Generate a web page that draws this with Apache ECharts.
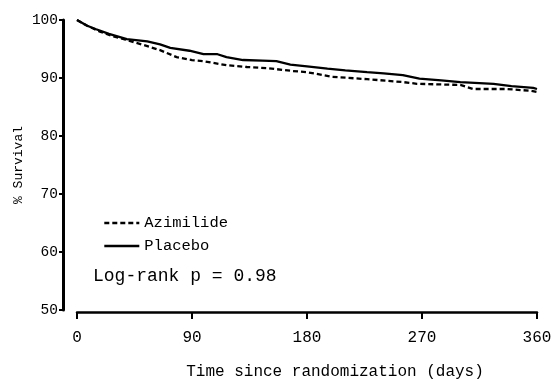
<!DOCTYPE html>
<html>
<head>
<meta charset="utf-8">
<script src="https://cdn.jsdelivr.net/npm/echarts@6/dist/echarts.min.js"></script>
<style>
html,body{margin:0;padding:0;background:#fff;}
#chart{width:555px;height:381px;}
</style>
</head>
<body>
<div id="chart"></div>
<script>
const xTicks = [0, 90, 180, 270, 360];
const yTicks = [50, 60, 70, 80, 90, 100];
const placeboDays = [0, 8, 15, 25, 39, 55, 65, 73, 88, 99, 110, 117, 130, 145, 156, 167, 180, 196, 210, 227, 240, 255, 268, 285, 300, 326, 340, 357, 360];
const placeboSurv = [100, 99.0, 98.4, 97.6, 96.7, 96.3, 95.8, 95.2, 94.7, 94.1, 94.1, 93.6, 93.1, 93.0, 92.9, 92.3, 92.0, 91.6, 91.3, 91.0, 90.8, 90.5, 89.9, 89.6, 89.3, 89.0, 88.6, 88.3, 88.1];
const azimDays = [0, 8, 18, 28, 38, 52, 65, 78, 90, 99, 117, 133, 149, 169, 180, 200, 227, 255, 266, 300, 310, 336, 355, 360];
const azimSurv = [100, 99.0, 98.0, 97.2, 96.6, 95.7, 94.8, 93.6, 93.1, 92.9, 92.2, 91.9, 91.7, 91.2, 91.0, 90.2, 89.8, 89.3, 89.0, 88.8, 88.1, 88.1, 87.8, 87.6];
const seriesNames = ['Azimilide', 'Placebo'];
const pText = 'Log-rank p = 0.98';

const FONT = '"Liberation Mono", "DejaVu Sans Mono", monospace';
const chart = echarts.init(document.getElementById('chart'));
chart.setOption({
  animation: false,
  backgroundColor: '#fff',
  grid: { left: 77, right: 18, top: 20, bottom: 71, outerBoundsMode: 'none', containLabel: false },
  title: {
    text: pText, left: 88, top: 262,
    textStyle: { fontFamily: FONT, fontSize: 18, fontWeight: 'normal', color: '#000' }
  },
  legend: {
    orient: 'vertical', left: 98, top: 210, itemWidth: 35, itemHeight: 14, itemGap: 7,
    textStyle: { fontFamily: FONT, fontSize: 15.5, color: '#000' },
    itemStyle: { color: 'rgba(0,0,0,0)', borderColor: 'rgba(0,0,0,0)', borderWidth: 0 },
    lineStyle: { width: 2.6 },
    data: seriesNames
  },
  xAxis: {
    type: 'value', min: 0, max: 360, interval: 90, offset: 2,
    name: 'Time since randomization (days)', nameLocation: 'middle', nameGap: 52,
    nameTextStyle: { fontFamily: FONT, fontSize: 16, color: '#000', padding: [0, 0, 0, 56] },
    axisLine: { onZero: false, lineStyle: { color: '#000', width: 2.5 } },
    axisTick: { show: true, inside: false, length: 7, lineStyle: { color: '#000', width: 2 } },
    axisLabel: { fontFamily: FONT, fontSize: 16, color: '#000', margin: 18, formatter: v => xTicks.includes(v) ? String(v) : '' },
    splitLine: { show: false }
  },
  yAxis: {
    type: 'value', min: 50, max: 100, interval: 10, offset: 14,
    name: '% Survival', nameLocation: 'middle', nameGap: 38, nameMoveOverlap: false,
    nameTextStyle: { fontFamily: FONT, fontSize: 13, color: '#000' },
    axisLine: { show: true, onZero: false, lineStyle: { color: '#000', width: 3 } },
    axisTick: { show: true, inside: false, length: 4, lineStyle: { color: '#000', width: 2 } },
    axisLabel: { fontFamily: FONT, fontSize: 14.5, color: '#000', margin: 5, formatter: v => yTicks.includes(v) ? String(v) : '' },
    splitLine: { show: false }
  },
  series: [
    {
      name: seriesNames[0], type: 'line', symbol: 'none',
      data: azimDays.map((d, i) => [d, azimSurv[i]]),
      lineStyle: { color: '#000', width: 2.3, type: [5, 3] },
      itemStyle: { color: '#000' }
    },
    {
      name: seriesNames[1], type: 'line', symbol: 'none',
      data: placeboDays.map((d, i) => [d, placeboSurv[i]]),
      lineStyle: { color: '#000', width: 2.3, type: 'solid' },
      itemStyle: { color: '#000' }
    }
  ]
});
</script>
</body>
</html>
